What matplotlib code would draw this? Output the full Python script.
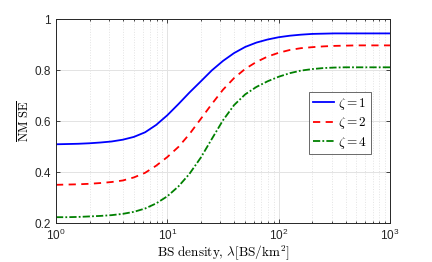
import matplotlib
matplotlib.use("Agg")
import matplotlib.pyplot as plt

plt.rcParams['mathtext.fontset'] = 'cm'
plt.rcParams['font.family'] = ['Liberation Sans', 'DejaVu Sans']

density = [1, 1.26, 1.58, 2, 2.51, 3.16, 3.98, 5.01, 6.31, 7.94,
           10, 12.6, 15.8, 20, 25.1, 31.6, 39.8, 50.1, 63.1, 79.4,
           100, 126, 158, 200, 251, 316, 398, 501, 631, 794, 1000]
nmse_z1 = [0.510, 0.511, 0.512, 0.514, 0.517, 0.521, 0.528, 0.539, 0.557, 0.586,
           0.624, 0.668, 0.713, 0.757, 0.800, 0.837, 0.868, 0.892, 0.909, 0.921,
           0.930, 0.936, 0.940, 0.943, 0.944, 0.945, 0.945, 0.945, 0.945, 0.945,
           0.945]
nmse_z2 = [0.351, 0.352, 0.353, 0.355, 0.358, 0.362, 0.368, 0.380, 0.398, 0.426,
           0.460, 0.500, 0.550, 0.610, 0.668, 0.724, 0.770, 0.806, 0.833, 0.854,
           0.869, 0.880, 0.887, 0.891, 0.894, 0.896, 0.897, 0.898, 0.898, 0.898,
           0.898]
nmse_z4 = [0.224, 0.224, 0.225, 0.227, 0.229, 0.232, 0.237, 0.245, 0.258, 0.278,
           0.306, 0.345, 0.394, 0.458, 0.531, 0.604, 0.664, 0.706, 0.735, 0.757,
           0.775, 0.789, 0.799, 0.805, 0.809, 0.811, 0.812, 0.812, 0.812, 0.812,
           0.812]
labels = [r'$\zeta = 1$', r'$\zeta = 2$', r'$\zeta = 4$']

fig = plt.figure(figsize=(4.32, 2.62), dpi=100)
ax = fig.add_axes([0.1296, 0.1477, 0.7732, 0.7783])

ax.plot(density, nmse_z1, '-', color='#0000ff', lw=1.3, label=labels[0])
ax.plot(density, nmse_z2, '--', color='#ff0000', lw=1.3, dashes=(4, 3), label=labels[1])
ax.plot(density, nmse_z4, '-.', color='#008000', lw=1.3, dashes=(4, 1.2, 1, 1.2), label=labels[2])

ax.set_xscale('log')
ax.set_xlim(1, 1000)
ax.set_ylim(0.2, 1.0)
ax.set_yticks([0.2, 0.4, 0.6, 0.8, 1.0])
ax.set_yticklabels(['0.2', '0.4', '0.6', '0.8', '1'])

ax.grid(True, which='major', color='#e3e3e3', lw=0.7, ls='-')
ax.grid(True, which='minor', axis='x', color='#e3e3e3', lw=0.7, ls=':')
ax.set_axisbelow(True)

for s in ax.spines.values():
    s.set_color('#262626')
    s.set_linewidth(0.7)
ax.tick_params(which='both', direction='in', top=True, right=True,
               colors='#262626', labelsize=8.5, width=0.6)
ax.tick_params(which='major', length=3)
ax.tick_params(which='minor', length=1.5)
ax.tick_params(axis='x', pad=3)

ax.set_xlabel(r'$\mathrm{BS\ density,}\,\lambda[\mathrm{BS/km}^2]$', fontsize=9.5, labelpad=0)
ax.set_ylabel(r'$\overline{\mathrm{NM\ SE}}$', fontsize=9, labelpad=2)

leg = ax.legend(loc='upper left', bbox_to_anchor=(0.757, 0.644), fontsize=9.5,
                frameon=True, fancybox=False, handlelength=1.6, handletextpad=0.3,
                borderpad=0.3, labelspacing=0.25, borderaxespad=0)
leg.get_frame().set_edgecolor('#262626')
leg.get_frame().set_linewidth(0.6)

fig.savefig('out.png', dpi=100)
